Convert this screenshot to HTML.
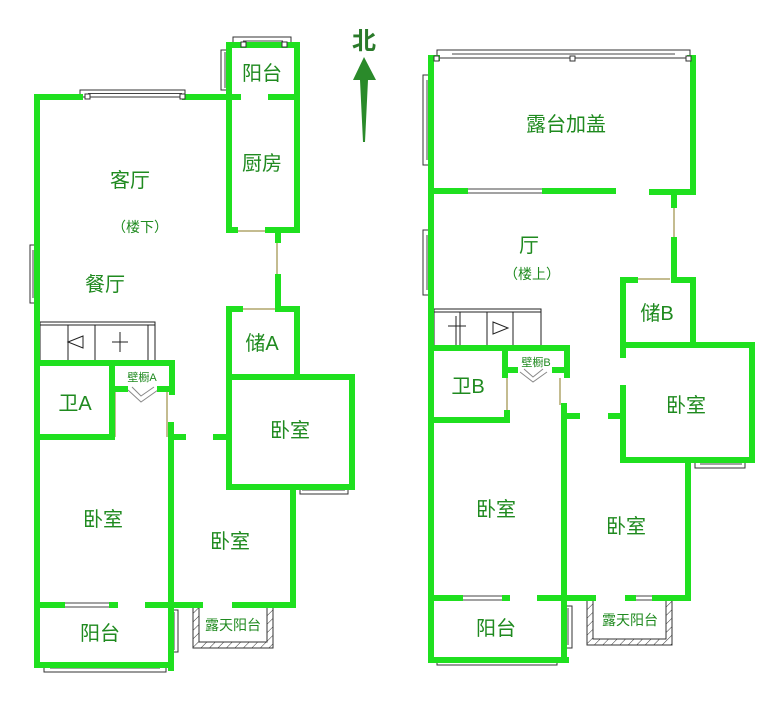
<!DOCTYPE html>
<html><head><meta charset="utf-8"><style>
html,body{margin:0;padding:0;background:#fff}
svg{display:block}
text{font-family:"Liberation Sans","Noto Sans CJK SC",sans-serif;fill:#1f8a1f}
</style></head><body>
<svg width="776" height="713" viewBox="0 0 776 713" xmlns="http://www.w3.org/2000/svg">
<defs>
<pattern id="h" width="6" height="6" patternUnits="userSpaceOnUse" patternTransform="rotate(45)">
<line x1="0" y1="0" x2="0" y2="6" stroke="#333" stroke-width="1"/></pattern>
</defs>
<!-- windows (white frames) -->
<g fill="#fff" stroke="#333" stroke-width="1">
<rect x="80" y="90" width="105" height="7"/>
<rect x="233" y="37" width="58" height="8"/>
<rect x="221" y="50" width="8" height="40"/>
<rect x="30" y="245" width="7" height="58"/>
<rect x="300" y="487" width="48" height="7"/>
<rect x="44" y="665" width="122" height="7"/>
<rect x="171" y="610" width="7" height="42"/>
<rect x="437" y="50" width="253" height="8"/>
<rect x="423" y="75" width="8" height="90"/>
<rect x="423" y="230" width="8" height="65"/>
<rect x="695" y="460" width="50" height="8"/>
<rect x="437" y="658" width="120" height="7"/>
<rect x="564" y="606" width="8" height="42"/>
</g>
<!-- hatched terraces -->
<g stroke="#333" stroke-width="1">
<path d="M193 605 V648 H273 V605 H267 V642 H199 V605 Z" fill="url(#h)"/>
<path d="M587 598 V645 H672 V598 H666 V639 H593 V598 Z" fill="url(#h)"/>
</g>
<!-- window glass lines -->
<g stroke="#444" stroke-width="1" fill="none">
<path d="M88 93.5H182 M243 41H283 M225 52V88 M33 250V298 M62 603H112 M62 607H112 M240 603H258 M50 668H160 M174 612V650"/>
<path d="M452 54H675 M427 80V160 M427 235V290 M465 189H545 M465 193H545 M460 596H505 M460 600H505 M633 596H655 M633 600H655 M445 661H548 M568 608V645 M700 464H742 M302 490H345"/>
</g>
<!-- stairs -->
<g stroke="#222" stroke-width="1" fill="none">
<rect x="40" y="322" width="115" height="41"/>
<path d="M40 325H155 M68 325V363 M95 325V363 M148 325V363"/>
<path d="M83 336 L68 342 L83 348 Z"/>
<path d="M112 342H128 M120 332V352"/>
<rect x="434" y="309" width="107" height="39"/>
<path d="M434 312H541 M460 312V348 M487 312V348 M513 312V348"/>
<path d="M493 322 L508 328 L493 334 Z"/>
<path d="M448 326H466 M456 316V345"/>
</g>
<!-- thin door / opening lines -->
<g stroke="#8a7a20" stroke-width="1" fill="none">
<path d="M238 231H268 M277 240V277 M240 309H275 M115 392V437 M167 392V437 M674 205V240 M635 279H670 M507 378V412 M560 378V405"/>
<path d="M128 390 L141 402 L158 390 M132 387 L141 396 L154 387" stroke="#888"/>
<path d="M520 372 L533 382 L547 372 M524 369 L533 377 L543 369" stroke="#888"/>
</g>
<!-- walls -->
<g stroke="#1fe01f" stroke-width="6" fill="none" stroke-linecap="square">
<!-- left plan -->
<path d="M37 97V665H171 M37 97H80 M185 97H229"/>
<path d="M229 45V230H235 M268 230H297V45H229"/>
<path d="M229 97H238 M271 97H297"/>
<path d="M278 230V240 M278 277V309H297V377 M229 309H240 M229 309V487H352V377H229"/>
<path d="M216 437H229"/>
<path d="M293 487V605H235 M200 605H168"/>
<path d="M171 425V668 M171 437H183"/>
<path d="M37 605H62 M112 605H115 M148 605H171"/>
<path d="M37 363H172V392 M112 363V437H37 M112 389H125 M160 389H172"/>
<!-- right plan -->
<path d="M431 58V660H566 M431 58H437 M690 58H693V192H652 M613 191H545 M465 191H431"/>
<path d="M674 192V205 M674 240V280H693V345 M623 280H635 M623 280V355 M623 388V460H752V345H623"/>
<path d="M611 416H623"/>
<path d="M688 460V598H655 M628 598H633 M593 598H540"/>
<path d="M564 406V660 M564 416H577"/>
<path d="M431 598H460 M505 598H507"/>
<path d="M431 348H567V375 M431 420H507V413 M505 348V375 M505 370H515 M555 370H567"/>
</g>
<!-- window small squares -->
<g fill="#fff" stroke="#333" stroke-width="1">
<rect x="85" y="94" width="5" height="5"/><rect x="180" y="94" width="5" height="5"/>
<rect x="241" y="42" width="5" height="5"/><rect x="282" y="42" width="5" height="5"/>
<rect x="434" y="56" width="5" height="5"/><rect x="570" y="56" width="5" height="5"/><rect x="686" y="56" width="5" height="5"/>
</g>
<!-- labels -->
<g font-size="20" text-anchor="middle">
<text x="262" y="80">阳台</text>
<text x="262" y="170">厨房</text>
<text x="130" y="187">客厅</text>
<text x="105" y="291">餐厅</text>
<text x="262" y="350">储A</text>
<text x="290" y="437">卧室</text>
<text x="75" y="410">卫A</text>
<text x="103" y="526">卧室</text>
<text x="230" y="548">卧室</text>
<text x="100" y="640">阳台</text>
<text x="566" y="131">露台加盖</text>
<text x="529" y="252">厅</text>
<text x="657" y="320">储B</text>
<text x="468" y="393">卫B</text>
<text x="686" y="412">卧室</text>
<text x="496" y="516">卧室</text>
<text x="626" y="533">卧室</text>
<text x="496" y="635">阳台</text>
</g>
<g font-size="14" text-anchor="middle">
<text x="140" y="232">（楼下）</text>
<text x="532" y="279">（楼上）</text>
<text x="233" y="630">露天阳台</text>
<text x="630" y="625">露天阳台</text>
</g>
<g font-size="11" text-anchor="middle">
<text x="142" y="381">壁橱A</text>
<text x="536" y="366">壁橱B</text>
</g>
<!-- north -->
<text x="364" y="49" font-size="24" text-anchor="middle" font-weight="bold" style="fill:#2a7a2a">北</text>
<path d="M364 57 L376 80 L368 80 L365 142 L363 142 L360 80 L353 80 Z" fill="#2a8a2a"/>
</svg>
</body></html>
